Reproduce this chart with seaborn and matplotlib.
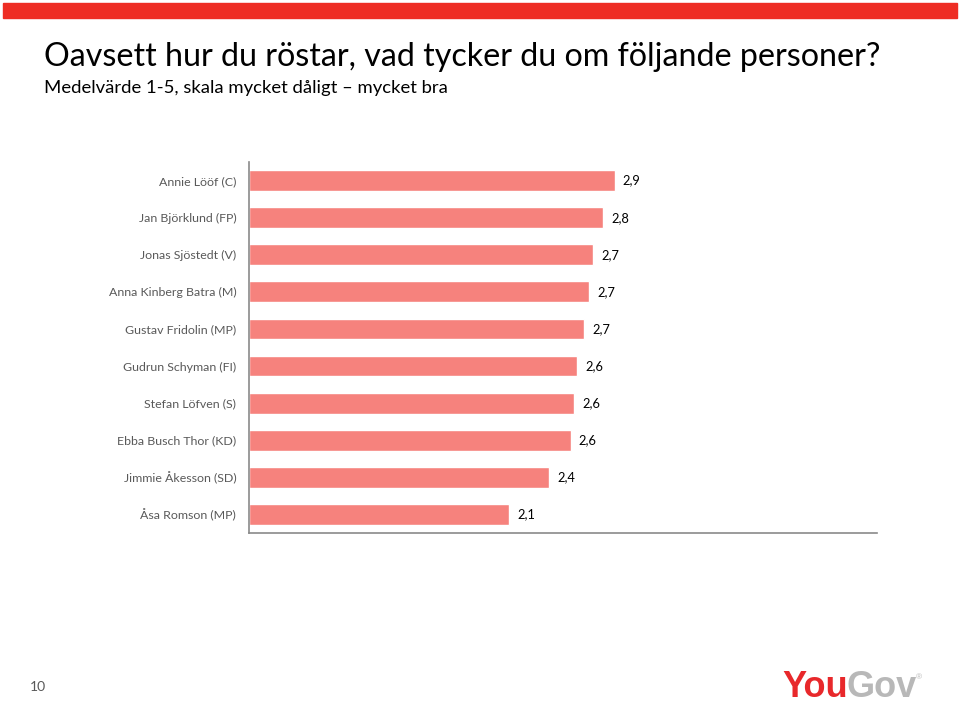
import matplotlib
matplotlib.use("Agg")
import matplotlib.pyplot as plt
import seaborn as sns
import pandas as pd

# data
personer = ["Annie Lööf (C)", "Jan Björklund (FP)", "Jonas Sjöstedt (V)",
            "Anna Kinberg Batra (M)", "Gustav Fridolin (MP)", "Gudrun Schyman (FI)",
            "Stefan Löfven (S)", "Ebba Busch Thor (KD)", "Jimmie Åkesson (SD)",
            "Åsa Romson (MP)"]
medelvarde = [2.91, 2.82, 2.74, 2.71, 2.67, 2.61, 2.59, 2.56, 2.39, 2.07]

df = pd.DataFrame({"person": personer, "varde": medelvarde})

sns.set_theme(style="white")
plt.rcParams['font.family'] = ['Lato', 'DejaVu Sans']

fig = plt.figure(figsize=(9.6, 7.06), dpi=100)
ax = fig.add_axes([0.259, 0.245, 0.655, 0.5255])

sns.barplot(data=df, x="varde", y="person", color="#F6827D", saturation=1,
            width=0.56, ax=ax)

ax.set_xlim(0, 5)
ax.set_xlabel("")
ax.set_ylabel("")
ax.set_xticks([])
for s in ["top", "right"]:
    ax.spines[s].set_visible(False)
for s in ["left", "bottom"]:
    ax.spines[s].set_color("#8a8a8a")
    ax.spines[s].set_linewidth(1.2)
ax.tick_params(axis="y", length=0, pad=9, labelsize=8.9, labelcolor="#595959")

for i, v in enumerate(medelvarde):
    ax.text(v + 0.065, i, f"{v:.1f}".replace(".", ","), va="center", ha="left",
            fontsize=9.3, color="black")

# top red band
fig.patches.append(plt.Rectangle((0.003, 0.975), 0.994, 0.0205, transform=fig.transFigure,
                                 color="#EE2D24", zorder=0))

fig.text(0.046, 0.919, "Oavsett hur du röstar, vad tycker du om följande personer?",
         fontsize=23.2, va="center", ha="left", color="black")
fig.text(0.046, 0.875, "Medelvärde 1-5, skala mycket dåligt – mycket bra",
         fontsize=13.3, va="center", ha="left", color="black")

fig.text(0.031, 0.027, "10", fontsize=10, color="#595959", va="center", ha="left")

# logo
renderer = fig.canvas.get_renderer()
you = fig.text(0.815, 0.026, "You", fontsize=26, fontweight="bold", color="#E8282B",
               family="Liberation Sans", va="center", ha="left")
bb = you.get_window_extent(renderer).transformed(fig.transFigure.inverted())
gov = fig.text(bb.x1 - 0.002, 0.026, "Gov", fontsize=26, fontweight="bold", color="#B8B8B8",
               family="Liberation Sans", va="center", ha="left")
bb2 = gov.get_window_extent(renderer).transformed(fig.transFigure.inverted())
fig.text(bb2.x1, 0.04, "®", fontsize=6, color="#B8B8B8", va="center", ha="left",
         family="Liberation Sans")

fig.savefig("out.png", dpi=100)
